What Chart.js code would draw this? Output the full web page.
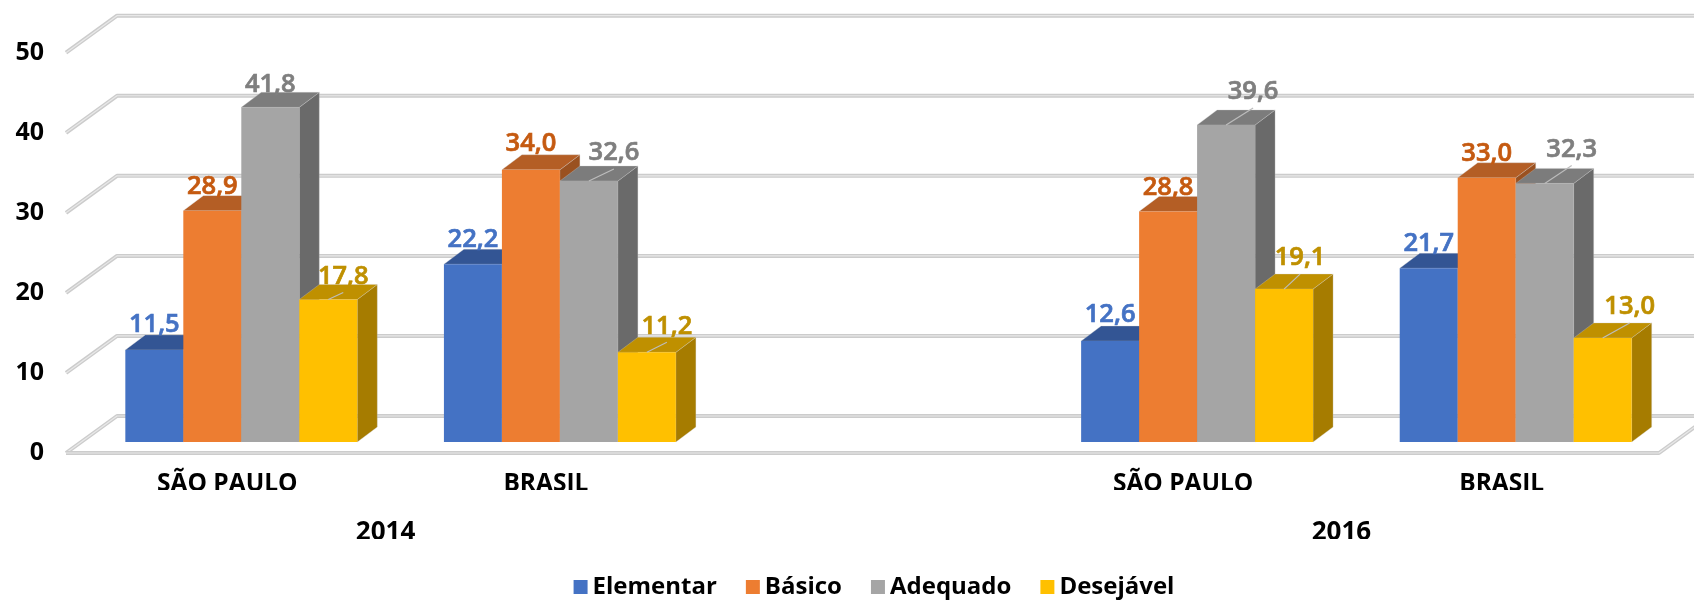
<!DOCTYPE html>
<html>
<head>
<meta charset="utf-8">
<title>Chart</title>
<script src="https://cdn.jsdelivr.net/npm/chart.js@4"></script>
<style>
  html, body { margin: 0; padding: 0; background: #fff; }
  canvas { display: block; }
</style>
</head>
<body>
<canvas id="grafico" width="1694" height="601"></canvas>
<script>
const categorias = ['SÃO PAULO', 'BRASIL', '', 'SÃO PAULO', 'BRASIL'];
const anos = ['', '2014', '', '', '2016', ''];
const elementar = [11.5, 22.2, null, 12.6, 21.7];
const basico = [28.9, 34.0, null, 28.8, 33.0];
const adequado = [41.8, 32.6, null, 39.6, 32.3];
const desejavel = [17.8, 11.2, null, 19.1, 13.0];
const yTicks = [0, 10, 20, 30, 40, 50];

const corFrente = ['#4472C4', '#ED7D31', '#A5A5A5', '#FFC000'];
const corTopo = ['#335594', '#B45E25', '#7C7C7C', '#BF9000'];
const corLado = ['#2C4A80', '#9A5120', '#6A6A6A', '#A67C00'];
const corRotulo = ['#4472C4', '#C55A11', '#7F7F7F', '#BF9000'];

// deslocamento dos rotulos em relacao ao topo da barra
const rotuloDx = [
  [0, 0, 0, 0, 0],
  [0, 0, 0, 0, 0],
  [0, 25, 0, 27, 27],
  [15, 20, 0, 16, 27]
];
const rotuloDy = [
  [-25, -25, 0, -26, -25],
  [-24, -26, 0, -24, -24],
  [-23, -28, 0, -33, -34],
  [-23, -26, 0, -31, -31]
];

const FONTE = '"Open Sans", "Noto Sans", sans-serif';
const PROF_X = 20, PROF_Y = 15;   // profundidade das barras
const PAREDE_X = 35, PAREDE_Y = 26, FRENTE_X = 16, FRENTE_Y = 11;

function linhaGrade(ctx, pontos) {
  ctx.lineJoin = 'round';
  [[4, '#cccccc'], [1.2, '#e8e8e8']].forEach(([w, cor]) => {
    ctx.beginPath();
    pontos.forEach((p, i) => i ? ctx.lineTo(p[0], p[1]) : ctx.moveTo(p[0], p[1]));
    ctx.lineWidth = w;
    ctx.strokeStyle = cor;
    ctx.stroke();
  });
}

function poligono(ctx, pontos, cor) {
  ctx.beginPath();
  pontos.forEach((p, i) => i ? ctx.lineTo(p[0], p[1]) : ctx.moveTo(p[0], p[1]));
  ctx.closePath();
  ctx.fillStyle = cor;
  ctx.fill();
  ctx.lineWidth = 1;
  ctx.strokeStyle = 'rgba(205,205,205,0.3)';
  ctx.stroke();
}

const barras3d = {
  id: 'barras3d',
  afterLayout(chart) {
    // a legenda fica centrada fora do eixo e nao pode ser cortada
    chart.legend.left = 80;
    chart.legend.bottom = chart.height;
  },
  beforeDatasetsDraw(chart) {
    const { ctx, scales: { x, y } } = chart;
    ctx.save();

    // paredes e piso
    yTicks.forEach(v => {
      const py = y.getPixelForValue(v);
      linhaGrade(ctx, [
        [x.left - FRENTE_X, py + FRENTE_Y],
        [x.left + PAREDE_X, py - PAREDE_Y],
        [chart.width + 5, py - PAREDE_Y]
      ]);
    });
    const y0 = y.getPixelForValue(0);
    linhaGrade(ctx, [
      [x.left - FRENTE_X, y0 + FRENTE_Y],
      [x.right - FRENTE_X, y0 + FRENTE_Y],
      [x.right + PAREDE_X, y0 - PAREDE_Y]
    ]);

    // da esquerda para a direita, para a barra seguinte cobrir a lateral da anterior
    chart.data.datasets.forEach((ds, i) => {
      chart.getDatasetMeta(i).data.forEach((bar, j) => {
        if (ds.data[j] === null) return;
        const esq = bar.x - bar.width / 2, dir = bar.x + bar.width / 2;
        poligono(ctx, [[dir, bar.y], [dir + PROF_X, bar.y - PROF_Y], [dir + PROF_X, bar.base - PROF_Y], [dir, bar.base]], corLado[i]);
        poligono(ctx, [[esq, bar.y], [esq + PROF_X, bar.y - PROF_Y], [dir + PROF_X, bar.y - PROF_Y], [dir, bar.y]], corTopo[i]);
        bar.draw(ctx);
      });
    });
    ctx.restore();
    return false;
  },
  afterDraw(chart) {
    const { ctx } = chart;
    ctx.save();
    ctx.textAlign = 'center';
    ctx.textBaseline = 'middle';
    ctx.font = '600 25.5px ' + FONTE;
    chart.data.datasets.forEach((ds, i) => {
      chart.getDatasetMeta(i).data.forEach((bar, j) => {
        const v = ds.data[j];
        if (v === null) return;
        const dx = rotuloDx[i][j], dy = rotuloDy[i][j];
        if (dx > 10) {
          ctx.beginPath();
          ctx.moveTo(bar.x, bar.y);
          ctx.lineTo(bar.x + dx, bar.y + dy + 16);
          ctx.lineWidth = 1.2;
          ctx.strokeStyle = '#bdbdbd';
          ctx.stroke();
        }
        const texto = v.toFixed(1).replace('.', ',');
        ctx.fillStyle = corRotulo[i];
        ctx.strokeStyle = corRotulo[i];
        ctx.lineWidth = 0.7;
        ctx.fillText(texto, bar.x + dx, bar.y + dy);
        ctx.strokeText(texto, bar.x + dx, bar.y + dy);
      });
    });
    ctx.restore();
  }
};

const rotulosLegenda = ['Elementar', 'Básico', 'Adequado', 'Desejável'];
const series = [elementar, basico, adequado, desejavel];

const semMargemX = s => { s.paddingLeft = 0; s.paddingRight = 0; };

new Chart(document.getElementById('grafico').getContext('2d'), {
  type: 'bar',
  data: {
    labels: categorias,
    datasets: series.map((data, i) => ({
      label: rotulosLegenda[i],
      data,
      backgroundColor: corFrente[i],
      borderWidth: 0,
      barPercentage: 1,
      categoryPercentage: 0.728
    }))
  },
  options: {
    responsive: false,
    animation: false,
    layout: { padding: { left: 0, right: 19, top: 41.7, bottom: 22 } },
    plugins: {
      tooltip: { enabled: false },
      legend: {
        position: 'bottom',
        maxHeight: 40,
        labels: {
          usePointStyle: true,
          pointStyle: 'rect',
          boxHeight: 14,
          boxWidth: 0.01,
          padding: 36,
          color: '#000',
          font: { family: FONTE, size: 24, weight: '700' },
          generateLabels: c => Chart.defaults.plugins.legend.labels.generateLabels(c).map(l => ({ ...l, lineWidth: 0 }))
        }
      }
    },
    scales: {
      y: {
        min: 0,
        max: 50,
        afterFit: s => { s.width = 82; s.paddingTop = 0; s.paddingBottom = 0; },
        grid: { display: false, drawTicks: false },
        border: { display: false },
        ticks: {
          stepSize: 10,
          padding: 38,
          labelOffset: 11,
          color: '#000',
          font: { family: FONTE, size: 25, weight: '700' }
        }
      },
      x: {
        position: 'bottom',
        afterFit: s => { s.height = 48; semMargemX(s); },
        grid: { display: false, drawTicks: false },
        border: { display: false },
        ticks: {
          autoSkip: false,
          maxRotation: 0,
          padding: 27,
          labelOffset: -14,
          color: '#000',
          font: { family: FONTE, size: 24.5, weight: '700' }
        }
      },
      anos: {
        type: 'category',
        labels: anos,
        position: 'bottom',
        offset: false,
        afterFit: s => { s.height = 49; semMargemX(s); },
        grid: { display: false, drawTicks: false },
        border: { display: false },
        ticks: {
          autoSkip: false,
          maxRotation: 0,
          padding: 27,
          labelOffset: -15,
          color: '#000',
          font: { family: FONTE, size: 26, weight: '700' }
        }
      }
    }
  },
  plugins: [barras3d]
});
</script>
</body>
</html>
